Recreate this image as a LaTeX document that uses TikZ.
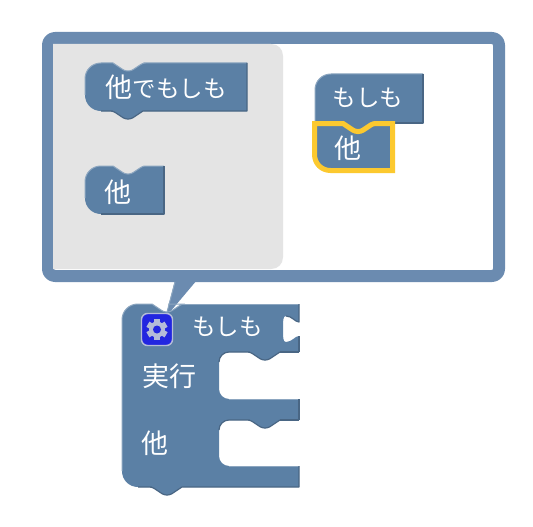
\documentclass[tikz,border=0pt]{standalone}
\usepackage{fontspec}
\setmainfont{Noto Sans CJK JP}
\definecolor{blk}{HTML}{5B80A5}
\definecolor{blklight}{HTML}{8CA6C0}
\definecolor{blkdark}{HTML}{496684}
\definecolor{bub}{HTML}{6B8BB0}
\definecolor{flyout}{HTML}{E4E4E4}
\definecolor{hilite}{HTML}{FCC92F}
\definecolor{iconblue}{HTML}{2226E0}
\definecolor{gearc}{HTML}{B4BCD8}
\tikzset{
  blocktext/.style={text=white,font=\fontsize{23.5}{24}\selectfont,inner sep=0pt},
  kanjitext/.style={text=white,font=\fontsize{27}{27}\selectfont,inner sep=0pt},
  blockfill/.style={fill=blk},
  lightedge/.style={draw=blklight,line width=1pt},
  darkedge/.style={draw=blkdark,line width=1.2pt},
  bubbleband/.style={draw=bub,line width=12pt,rounded corners=7pt,fill=white},
}
\newcommand{\nt}{[rounded corners=2.5pt] -- ++(12,8) -- ++(6,0) -- ++(12,-8) -- ++(3,0) [sharp corners]}
\newcommand{\ntr}{[rounded corners=2.5pt] -- ++(-12,8) -- ++(-6,0) -- ++(-12,-8) -- ++(-3,0) [sharp corners]}
\begin{document}
\begin{tikzpicture}[x=1pt,y=-1pt,line join=round]
\useasboundingbox (0,0) rectangle (533,527);
\fill[white] (0,0) rectangle (533,527);
% tail and bubble
\fill[bub] (175,280) -- (197,280) -- (170,312) -- (167,312) -- cycle;
\draw[bubbleband] (48,38) rectangle (499,276);
\fill[flyout] (53,44) -- (271,44) .. controls +(7,0) and +(0,-7) .. (283,56)
  -- (283,257) .. controls +(0,7) and +(7,0) .. (271,269) -- (53,269) -- cycle;
% block: other-if
\fill[blockfill] (85,79) .. controls +(0,-9) and +(-9,0) .. (101,63) -- (113,63) \nt -- (247,63)
  -- (247,111) -- (143,111) \ntr -- (101,111) .. controls +(-9,0) and +(0,9) .. (85,95) -- cycle;
\draw[lightedge] (85,95) -- (85,79) .. controls +(0,-9) and +(-9,0) .. (101,63) -- (113,63) \nt -- (247,63);
\draw[darkedge] (247,63) -- (247,111) -- (143,111) \ntr -- (101,111);
\node[blocktext] (elseif) at (166,87) {{\fontsize{27}{27}\selectfont 他}でもしも};
% block: else
\fill[blockfill] (85,182) .. controls +(0,-9) and +(-9,0) .. (101,166) -- (113,166) \nt -- (164,166)
  -- (164,214) -- (101,214) .. controls +(-9,0) and +(0,9) .. (85,198) -- cycle;
\draw[lightedge] (85,198) -- (85,182) .. controls +(0,-9) and +(-9,0) .. (101,166) -- (113,166) \nt -- (164,166);
\draw[darkedge] (164,166) -- (164,214) -- (101,214);
\node[kanjitext] (elseb) at (118,192) {他};
% workspace: if
\fill[blockfill] (315,90) .. controls +(0,-9) and +(-9,0) .. (331,74) -- (423,74) -- (423,123) -- (372,123) \ntr -- (315,123) -- cycle;
\draw[lightedge] (315,123) -- (315,90) .. controls +(0,-9) and +(-9,0) .. (331,74) -- (423,74);
\draw[darkedge] (423,74) -- (423,123) -- (395,123);
\node[blocktext] (wif) at (368,98) {もしも};
% workspace: else, highlighted
\draw[blockfill,draw=hilite,line width=5pt,line join=miter] (314.5,123.5) -- (343,123.5) \nt -- (392.5,123.5)
  -- (392.5,170.5) -- (330.5,170.5) .. controls +(-9,0) and +(0,9) .. (314.5,154.5) -- cycle;
\node[kanjitext] (welse) at (347.5,148) {他};
% main block
\fill[blockfill] (122,320) .. controls +(0,-9) and +(-9,0) .. (138,304) -- (152,304) \nt -- (299,304)
  -- (299,322) .. controls (295,322) and (292,316) .. (286,316) .. controls (283,316) and (283,320) .. (283,329)
  .. controls (283,338) and (283,342) .. (286,342) .. controls (292,342) and (295,336) .. (299,336)
  -- (299,352) -- (280,352) \ntr -- (229,352) .. controls +(-5.5,0) and +(0,-5.5) .. (219,362)
  -- (219,389) .. controls +(0,5.5) and +(-5.5,0) .. (229,399) -- (299,399) -- (299,420)
  -- (280,420) \ntr -- (229,420) .. controls +(-5.5,0) and +(0,-5.5) .. (219,430)
  -- (219,456) .. controls +(0,5.5) and +(-5.5,0) .. (229,466) -- (299,466) -- (299,487)
  -- (182,487) \ntr -- (138,487) .. controls +(-9,0) and +(0,9) .. (122,471) -- cycle;
\draw[lightedge] (122,471) -- (122,320) .. controls +(0,-9) and +(-9,0) .. (138,304) -- (152,304) \nt -- (168,304);
\draw[lightedge] (182,304) -- (299,304);
\draw[lightedge] (229,399) -- (299,399);
\draw[lightedge] (229,466) -- (299,466);
\draw[lightedge] (175,282) -- (167,312);
\draw[darkedge] (280,352) \ntr -- (229,352) .. controls +(-5.5,0) and +(0,-5.5) .. (219,362);
\draw[darkedge] (280,420) \ntr -- (229,420) .. controls +(-5.5,0) and +(0,-5.5) .. (219,430);
\draw[darkedge] (299,352) -- (280,352);
\draw[darkedge] (299,420) -- (280,420);
\draw[darkedge] (299,466) -- (299,487) -- (182,487) \ntr -- (138,487);
\draw[darkedge] (299,304) -- (299,322) .. controls (295,322) and (292,316) .. (286,316);
\draw[darkedge] (299,336) -- (299,352);
\draw[darkedge] (299,399) -- (299,420);
% icon
\draw[fill=iconblue,draw=gearc,line width=1.4pt,rounded corners=6pt] (141.5,313.5) rectangle (172.5,345.5);
\foreach \a in {0,60,120,180,240,300}
  \fill[gearc,rotate around={\a:(157,329.5)}] (154,319) rectangle (160,326);
\fill[gearc] (157,329.5) circle[radius=8];
\fill[iconblue] (157,329.5) circle[radius=4];
\node[blocktext] (mif) at (227.5,327) {もしも};
\node[kanjitext] (mdo) at (169.5,376) {実行};
\node[kanjitext] (melse) at (155,443) {他};
\end{tikzpicture}
\end{document}
